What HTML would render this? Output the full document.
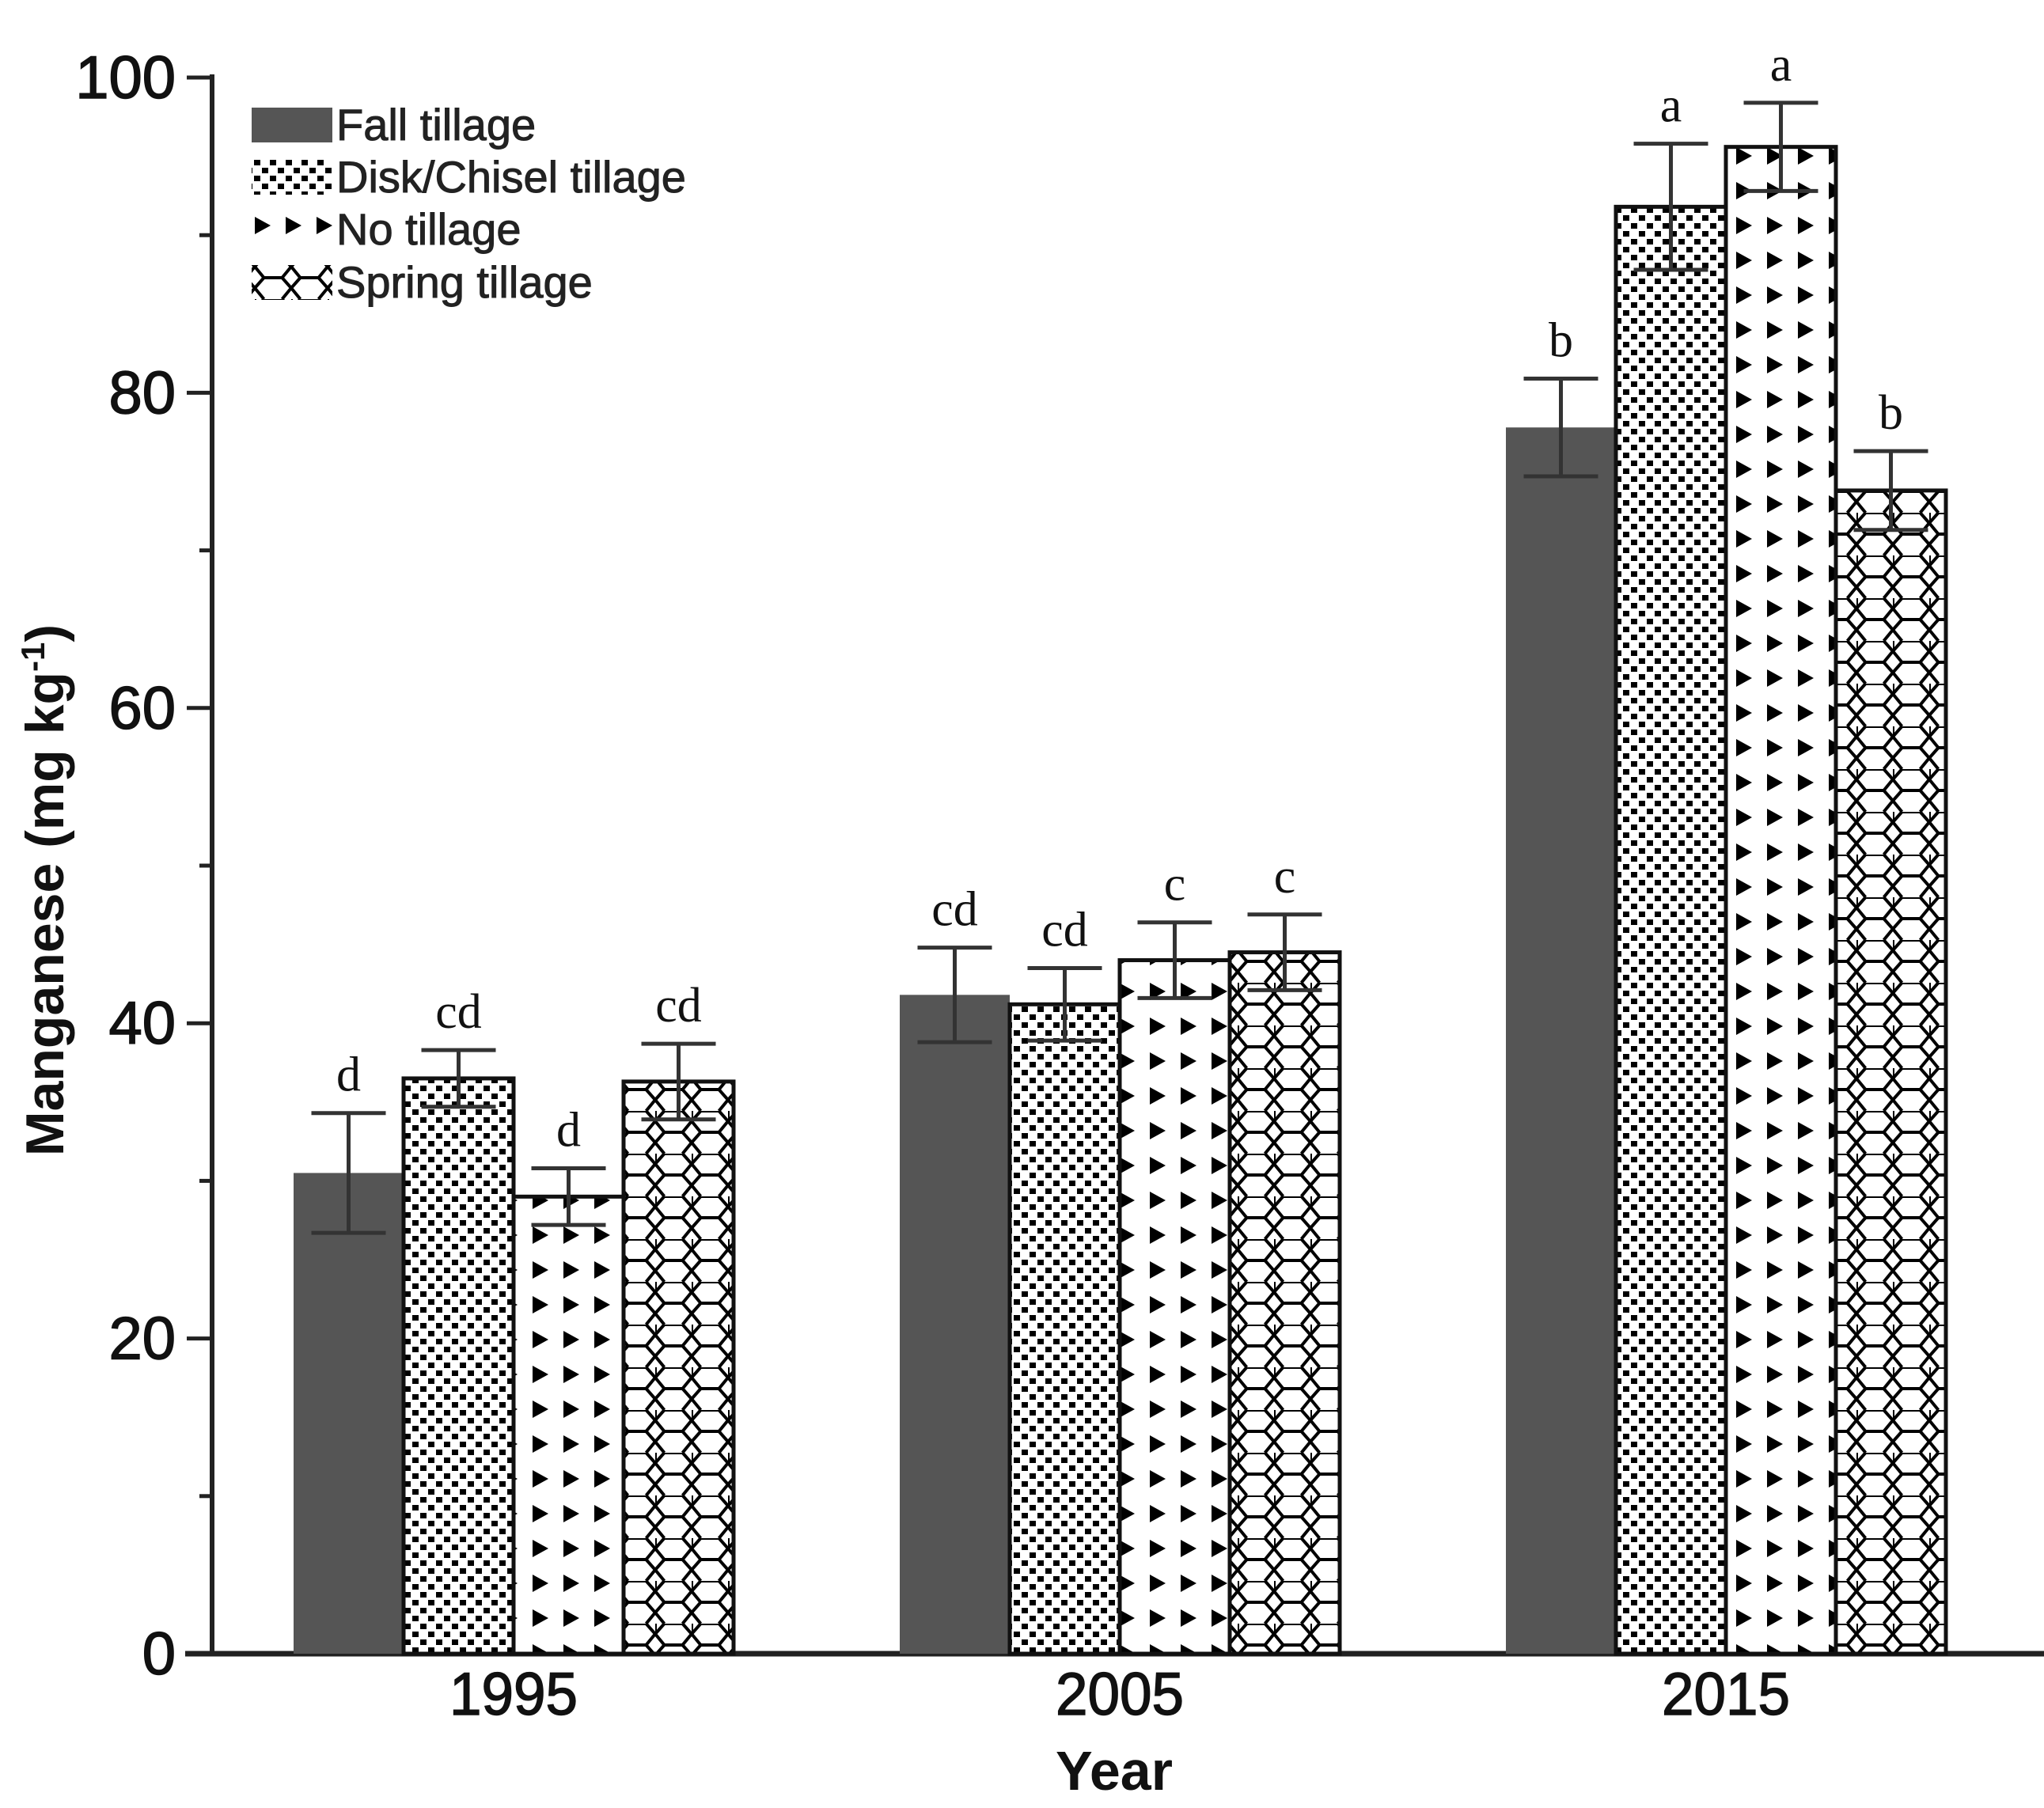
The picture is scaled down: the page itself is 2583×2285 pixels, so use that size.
<!DOCTYPE html>
<html><head><meta charset="utf-8"><style>
html,body{margin:0;padding:0;background:#fff;}
svg{display:block;}
</style></head><body>
<svg id="chart" width="2583" height="2285" viewBox="0 0 2583 2285" xmlns="http://www.w3.org/2000/svg">
<defs>
<pattern id="pDots" patternUnits="userSpaceOnUse" width="20" height="20">
<rect width="20" height="20" fill="#fff"/>
<rect x="1" y="2" width="8" height="7" fill="#000"/>
<rect x="11" y="12" width="8" height="7" fill="#000"/>
</pattern>
<pattern id="pTri" patternUnits="userSpaceOnUse" width="39" height="44" x="0" y="0">
<rect width="39" height="44" fill="#fff"/>
<polygon points="10,10 30,21 10,32" fill="#000"/>
</pattern>
<pattern id="pHex" patternUnits="userSpaceOnUse" width="46" height="54">
<rect width="46" height="54" fill="#fff"/>
<path d="M0,13 L11.5,0 M11.5,0 L34.5,0 M34.5,0 L46,13 M0,13 L0,0 M0,13 L11.5,27 L34.5,27 L46,13 M11.5,27 L0,40 L11.5,54 M34.5,27 L46,40 L34.5,54 M0,40 L-11,40 M46,40 L57,40" stroke="#000" stroke-width="4" fill="none"/>
</pattern>
</defs>
<g id="axes"></g>
<g id="bars"></g>
<g id="legend"></g>
</svg>
<script>
const years = ["1995","2005","2015"];
const seriesNames = ["Fall tillage","Disk/Chisel tillage","No tillage","Spring tillage"];
const fallVals = [30.5, 41.8, 77.8];
const diskVals = [36.5, 41.2, 91.8];
const noVals = [29.0, 44.0, 95.6];
const springVals = [36.3, 44.5, 73.8];
const fallErr = [3.8, 3.0, 3.1];
const diskErr = [1.8, 2.3, 4.0];
const noErr = [1.8, 2.4, 2.8];
const springErr = [2.4, 2.4, 2.5];
const fallLetters = ["d","cd","b"];
const diskLetters = ["cd","cd","a"];
const noLetters = ["d","c","a"];
const springLetters = ["cd","c","b"];
const yTicks = [0,20,40,60,80,100];
const yMinorTicks = [10,30,50,70,90];

const NS="http://www.w3.org/2000/svg";
const gA=document.getElementById('axes'), gB=document.getElementById('bars'), gL=document.getElementById('legend');
const y0=2090, yPer=19.92, axX=268;
function yS(v){return y0 - v*yPer;}
const groupStart=371, groupStep=766, barW=139;
function xBar(gi,si){return groupStart+gi*groupStep+si*barW;}
function el(tag,attrs,parent){const e=document.createElementNS(NS,tag);for(const k in attrs)e.setAttribute(k,attrs[k]);parent.appendChild(e);return e;}

let ax=el('line',{x1:axX,y1:yS(100)-4,x2:axX,y2:y0+3,stroke:'#222','stroke-width':6},gA);


let bx=el('line',{x1:axX-34,y1:y0,x2:2583,y2:y0,stroke:'#222','stroke-width':7},gA);


yTicks.forEach(v=>{
  let t=el('line',{x1:axX-32,y1:yS(v),x2:axX,y2:yS(v),stroke:'#222','stroke-width':5},gA);
  
  
  let tx=el('text',{x:axX-46,y:yS(v)+26,'text-anchor':'end','font-family':'Liberation Sans, sans-serif','font-size':76,'stroke':'#111','stroke-width':1.5,fill:'#111'},gA);
  tx.textContent=v;
  
  
});
yMinorTicks.forEach(v=>{
  let t=el('line',{x1:axX-16,y1:yS(v),x2:axX,y2:yS(v),stroke:'#222','stroke-width':5},gA);
  
  
});
years.forEach((yr,gi)=>{
  let tx=el('text',{x:xBar(gi,2),y:2167,'text-anchor':'middle','font-family':'Liberation Sans, sans-serif','font-size':76,'stroke':'#111','stroke-width':1.5,fill:'#111',textLength:162,lengthAdjust:'spacingAndGlyphs'},gA);
  tx.textContent=yr;
  
  
});
let xt=el('text',{x:1408,y:2262,'text-anchor':'middle','font-family':'Liberation Sans, sans-serif','font-size':70,'font-weight':'bold',fill:'#111'},gA);
xt.textContent='Year';


let yt=el('text',{x:0,y:0,'text-anchor':'middle','font-family':'Liberation Sans, sans-serif','font-size':68,'font-weight':'bold',fill:'#111',transform:'translate(80,1125) rotate(-90)'},gA);
yt.innerHTML='Manganese (mg kg<tspan dy="-24" font-size="42">-1</tspan><tspan dy="24">)</tspan>';



const fills=['#555','url(#pDots)','url(#pTri)','url(#pHex)'];
const vals=[fallVals,diskVals,noVals,springVals];
const errs=[fallErr,diskErr,noErr,springErr];
const lets=[fallLetters,diskLetters,noLetters,springLetters];
const names=['fall','disk','no','spring'];
years.forEach((yr,gi)=>{
  for(let si=0;si<4;si++){
    const v=vals[si][gi], e=errs[si][gi];
    const x=xBar(gi,si), top=yS(v);
    let r=el('rect',{x:x,y:top,width:barW,height:y0-top,fill:fills[si],stroke:si===0?'#555':'#111','stroke-width':si===0?0:5},gB);
    
    
    const cx=x+barW/2;
    let eb=el('path',{d:`M${cx-47},${yS(v+e)} H${cx+47} M${cx},${yS(v+e)} V${yS(v-e)} M${cx-47},${yS(v-e)} H${cx+47}`,stroke:'#333','stroke-width':5,fill:'none'},gB);
    
    
    let lt=el('text',{x:cx,y:yS(v+e)-28,'text-anchor':'middle','font-family':'Liberation Serif, serif','font-size':62,fill:'#111'},gB);
    lt.textContent=lets[si][gi];
    
    
  }
});
const legY=[158,224,290,357];
seriesNames.forEach((n,i)=>{
  let p=el('rect',{x:318,y:legY[i]-22,width:102,height:44,fill:fills[i]},gL);
  
  
  let t=el('text',{x:425,y:legY[i]+19,'font-family':'Liberation Sans, sans-serif','font-size':56,'stroke':'#222','stroke-width':1,fill:'#222'},gL);
  t.textContent=n;
  
  
});
</script>
</body></html>
